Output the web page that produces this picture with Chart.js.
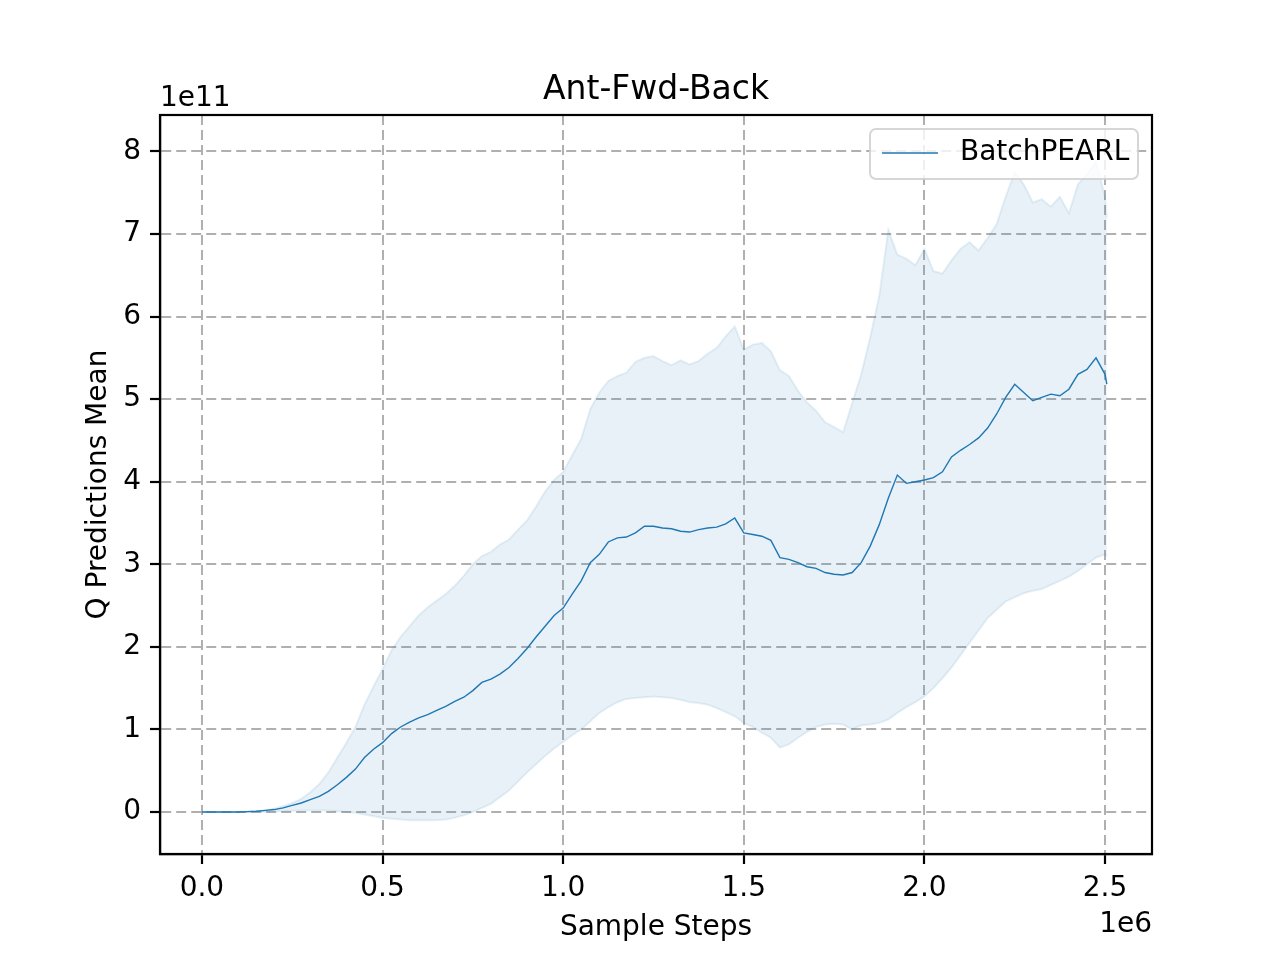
<!DOCTYPE html>
<html lang="en">
<head>
    <meta charset="UTF-8">
    <title>Ant-Fwd-Back</title>
    <script src="https://cdn.jsdelivr.net/npm/chart.js"></script>
    <style>
        body { margin: 0; background: #fff; }
    </style>
</head>
<body>

<canvas id="qChart" width="1280" height="960"></canvas>

<script>
    // Sample steps (x 1e6)
    var steps = [
        0.000, 0.025, 0.050, 0.075, 0.100, 0.125, 0.150, 0.175, 0.200, 0.225,
        0.250, 0.275, 0.300, 0.325, 0.350, 0.375, 0.400, 0.425, 0.450, 0.475,
        0.500, 0.525, 0.550, 0.575, 0.600, 0.625, 0.650, 0.675, 0.700, 0.725,
        0.750, 0.775, 0.800, 0.825, 0.850, 0.875, 0.900, 0.925, 0.950, 0.975,
        1.000, 1.025, 1.050, 1.075, 1.100, 1.125, 1.150, 1.175, 1.200, 1.225,
        1.250, 1.275, 1.300, 1.325, 1.350, 1.375, 1.400, 1.425, 1.450, 1.475,
        1.500, 1.525, 1.550, 1.575, 1.600, 1.625, 1.650, 1.675, 1.700, 1.725,
        1.750, 1.775, 1.800, 1.825, 1.850, 1.875, 1.900, 1.925, 1.950, 1.975,
        2.000, 2.025, 2.050, 2.075, 2.100, 2.125, 2.150, 2.175, 2.200, 2.225,
        2.250, 2.275, 2.300, 2.325, 2.350, 2.375, 2.400, 2.425, 2.450, 2.475,
        2.500, 2.505
    ];

    // Q predictions mean (x 1e11)
    var meanQ = [
        0, 0, 0, 0, 0, 0.005, 0.01, 0.02, 0.03, 0.05,
        0.08, 0.11, 0.15, 0.19, 0.25, 0.33, 0.42, 0.52, 0.66, 0.76,
        0.84, 0.95, 1.03, 1.09, 1.14, 1.18, 1.23, 1.28, 1.34, 1.39,
        1.47, 1.57, 1.61, 1.67, 1.75, 1.86, 1.98, 2.12, 2.25, 2.38,
        2.47, 2.64, 2.80, 3.02, 3.12, 3.27, 3.32, 3.33, 3.38, 3.46,
        3.46, 3.44, 3.43, 3.40, 3.39, 3.42, 3.44, 3.45, 3.49, 3.56,
        3.38, 3.36, 3.34, 3.29, 3.08, 3.06, 3.02, 2.97, 2.95, 2.90,
        2.88, 2.87, 2.90, 3.02, 3.22, 3.48, 3.80, 4.08, 3.98, 4.00,
        4.02, 4.05, 4.12, 4.30, 4.38, 4.45, 4.53, 4.65, 4.82, 5.02,
        5.18, 5.08, 4.98, 5.02, 5.06, 5.04, 5.12, 5.30, 5.36, 5.50,
        5.30, 5.18
    ];

    // upper edge of the shaded band
    var upperQ = [
        0, 0, 0, 0, 0, 0.005, 0.01, 0.02, 0.04, 0.07,
        0.11, 0.16, 0.24, 0.34, 0.48, 0.66, 0.84, 1.03, 1.30, 1.52,
        1.73, 1.96, 2.12, 2.25, 2.38, 2.48, 2.56, 2.64, 2.74, 2.86,
        3.00, 3.10, 3.15, 3.24, 3.30, 3.42, 3.53, 3.70, 3.88, 4.02,
        4.12, 4.32, 4.52, 4.88, 5.08, 5.22, 5.28, 5.32, 5.45, 5.50,
        5.52, 5.46, 5.41, 5.47, 5.42, 5.46, 5.55, 5.62, 5.76, 5.88,
        5.60, 5.66, 5.68, 5.58, 5.35, 5.28, 5.10, 4.96, 4.86, 4.72,
        4.66, 4.60, 4.95, 5.30, 5.75, 6.25, 7.05, 6.75, 6.70, 6.62,
        6.82, 6.55, 6.52, 6.68, 6.82, 6.90, 6.80, 6.95, 7.12, 7.45,
        7.75, 7.60, 7.38, 7.42, 7.33, 7.45, 7.25, 7.60, 7.72, 7.88,
        7.45, 7.20
    ];

    // lower edge of the shaded band
    var lowerQ = [
        0, 0, 0, 0, 0, 0, 0, 0.005, 0.01, 0.01,
        0.015, 0.02, 0.02, 0.02, 0.02, 0.01, 0, -0.01, -0.03, -0.05,
        -0.07, -0.08, -0.09, -0.10, -0.10, -0.10, -0.10, -0.09, -0.07, -0.04,
        0, 0.05, 0.10, 0.18, 0.26, 0.37, 0.48, 0.58, 0.68, 0.77,
        0.85, 0.93, 1.00, 1.10, 1.20, 1.27, 1.33, 1.37, 1.38, 1.39,
        1.40, 1.39, 1.38, 1.36, 1.33, 1.32, 1.30, 1.26, 1.21, 1.16,
        1.08, 1.03, 0.96, 0.90, 0.78, 0.82, 0.90, 0.97, 1.03, 1.06,
        1.07, 1.06, 1.00, 1.05, 1.06, 1.08, 1.12, 1.20, 1.27, 1.33,
        1.40, 1.50, 1.62, 1.75, 1.90, 2.05, 2.20, 2.35, 2.45, 2.55,
        2.60, 2.65, 2.68, 2.70, 2.75, 2.80, 2.85, 2.92, 3.00, 3.08,
        3.12, 3.10
    ];

    var FONT = '"DejaVu Sans", sans-serif';
    var BLUE = '#1f77b4';

    function toPoints(ys) {
        return steps.map(function(x, i) { return { x: x, y: ys[i] }; });
    }

    // texts, frame and legend drawn the matplotlib way
    var decorations = {
        id: 'decorations',
        afterDraw: function(chart) {
            var ctx = chart.ctx;
            var a = chart.chartArea;
            ctx.save();

            // frame on all four sides
            ctx.strokeStyle = '#000';
            ctx.lineWidth = 2.2;
            ctx.setLineDash([]);
            ctx.strokeRect(a.left, a.top, a.right - a.left, a.bottom - a.top);

            ctx.fillStyle = '#000';
            ctx.textBaseline = 'alphabetic';

            // title
            ctx.font = '33px ' + FONT;
            ctx.textAlign = 'center';
            ctx.fillText('Ant-Fwd-Back', (a.left + a.right) / 2, 99);

            // offset labels
            ctx.font = '28px ' + FONT;
            ctx.textAlign = 'left';
            ctx.fillText('1e11', a.left, 106);
            ctx.textAlign = 'right';
            ctx.fillText('1e6', a.right, 932);

            // axis titles
            ctx.textAlign = 'center';
            ctx.fillText('Sample Steps', (a.left + a.right) / 2, 935);
            ctx.save();
            ctx.translate(106, (a.top + a.bottom) / 2);
            ctx.rotate(-Math.PI / 2);
            ctx.fillText('Q Predictions Mean', 0, 0);
            ctx.restore();

            // legend box
            var lx = 870, ly = 129, lw = 268, lh = 50, r = 6;
            ctx.beginPath();
            ctx.moveTo(lx + r, ly);
            ctx.arcTo(lx + lw, ly, lx + lw, ly + lh, r);
            ctx.arcTo(lx + lw, ly + lh, lx, ly + lh, r);
            ctx.arcTo(lx, ly + lh, lx, ly, r);
            ctx.arcTo(lx, ly, lx + lw, ly, r);
            ctx.closePath();
            ctx.fillStyle = 'rgba(255,255,255,0.8)';
            ctx.fill();
            ctx.strokeStyle = 'rgba(204,204,204,0.8)';
            ctx.lineWidth = 2;
            ctx.stroke();

            ctx.strokeStyle = BLUE;
            ctx.lineWidth = 1.4;
            ctx.beginPath();
            ctx.moveTo(882, 153);
            ctx.lineTo(938, 153);
            ctx.stroke();

            ctx.fillStyle = '#000';
            ctx.textAlign = 'left';
            ctx.textBaseline = 'middle';
            ctx.fillText(chart.data.datasets[0].label, 960, 153);

            ctx.restore();
        }
    };

    var ctx = document.getElementById('qChart').getContext('2d');

    var qChart = new Chart(ctx, {
        type: 'line',
        data: {
            datasets: [
                {
                    label: 'BatchPEARL',
                    data: toPoints(meanQ),
                    borderColor: BLUE,
                    borderWidth: 1.4,
                    pointRadius: 0,
                    fill: false,
                    order: 0
                },
                {
                    label: 'upper',
                    data: toPoints(upperQ),
                    borderColor: 'rgba(31,119,180,0.1)',
                    backgroundColor: 'rgba(31,119,180,0.1)',
                    borderWidth: 2,
                    pointRadius: 0,
                    fill: '+1',
                    order: 1
                },
                {
                    label: 'lower',
                    data: toPoints(lowerQ),
                    borderColor: 'rgba(31,119,180,0.1)',
                    borderWidth: 2,
                    pointRadius: 0,
                    fill: false,
                    order: 1
                }
            ]
        },
        options: {
            responsive: false,
            animation: false,
            devicePixelRatio: 1,
            layout: {
                padding: { left: 0, top: 115, right: 128, bottom: 0 }
            },
            plugins: {
                legend: { display: false },
                tooltip: { enabled: false }
            },
            scales: {
                x: {
                    type: 'linear',
                    min: -0.116,
                    max: 2.63,
                    afterFit: function(scale) { scale.height = 106; },
                    ticks: {
                        stepSize: 0.5,
                        includeBounds: false,
                        maxRotation: 0,
                        padding: 8,
                        color: '#000',
                        font: { family: FONT, size: 28 },
                        callback: function(value) { return value.toFixed(1); }
                    },
                    grid: {
                        color: '#b0b0b0',
                        lineWidth: 2,
                        tickColor: '#000',
                        tickWidth: 2.2,
                        tickLength: 10
                    },
                    border: { color: '#000', width: 2.2, dash: [10, 5] }
                },
                y: {
                    min: -0.508,
                    max: 8.44,
                    afterFit: function(scale) { scale.width = 160; },
                    ticks: {
                        stepSize: 1,
                        includeBounds: false,
                        padding: 9,
                        color: '#000',
                        font: { family: FONT, size: 28 },
                        callback: function(value) { return value.toFixed(0); }
                    },
                    grid: {
                        color: '#b0b0b0',
                        lineWidth: 2,
                        tickColor: '#000',
                        tickWidth: 2.2,
                        tickLength: 10
                    },
                    border: { color: '#000', width: 2.2, dash: [10, 5] }
                }
            }
        },
        plugins: [decorations]
    });
</script>

</body>
</html>
